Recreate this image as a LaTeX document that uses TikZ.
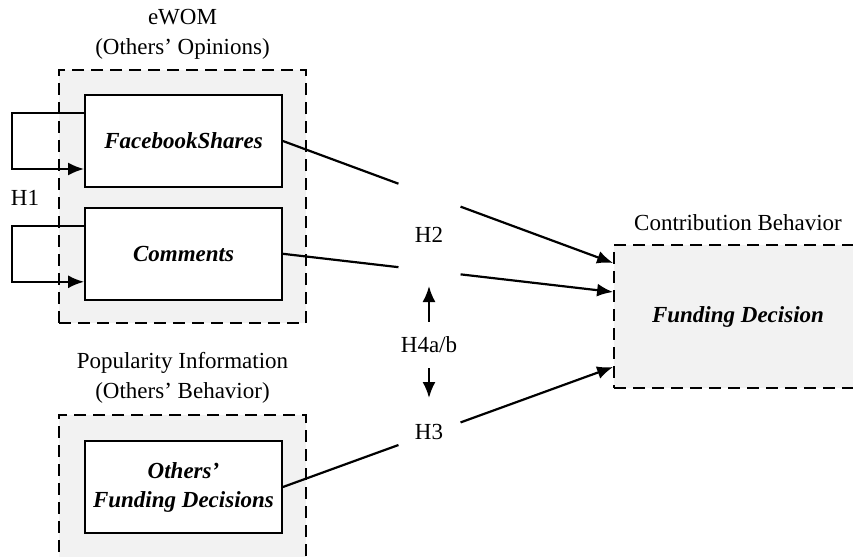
\documentclass[tikz,border=0pt]{standalone}
\usepackage{fontspec}
\setmainfont{Liberation Serif}
\usetikzlibrary{arrows,arrows.meta,shapes,positioning,calc}

\begin{document}
\begin{tikzpicture}[->,>={Latex[length=8pt,width=6.5pt]},x=0.5pt,y=-0.5pt,line width=1.1pt,
                    font=\fontsize{11.5}{15}\selectfont]
\tikzstyle{var}=[rectangle,draw=black,fill=white,line width=0.9pt,minimum width=98.5pt,minimum height=46pt,align=center,font=\fontsize{11.5}{14.5}\selectfont\bfseries\itshape]
\tikzstyle{grp}=[rectangle,draw=black,fill=black!5,line width=0.9pt,dash pattern=on 6pt off 3.5pt]
\tikzstyle{lbl}=[align=center,inner sep=0pt]
\tikzstyle{hyp}=[inner sep=2pt]

\useasboundingbox (0,0) rectangle (853,557);
\clip (0,0) rectangle (853,557);

% groups
\node[grp, minimum width=123.5pt, minimum height=126.5pt] (ewom) at (182.5,196.5) {};
\node[grp, minimum width=123.5pt, minimum height=80pt] (pop) at (182.5,495) {};
\node[grp, minimum width=124pt, minimum height=71.5pt, font=\fontsize{11.5}{14.5}\selectfont\bfseries\itshape] (fd) at (738,316.5) {Funding Decision};

\node[lbl] (ewomlbl) [above=4.5pt of ewom] {eWOM\\(Others’ Opinions)};
\node[lbl] (poplbl) [above=5pt of pop] {Popularity Information\\(Others’ Behavior)};
\node[lbl] (fdlbl) [above=6pt of fd] {Contribution Behavior};

% variables
\node[var] (fb) [below right=12.5pt and 13pt of ewom.north west] {FacebookShares};
\node[var] (com) [below=9.5pt of fb] {Comments};
\node[var] (ofd) [below right=13pt and 13pt of pop.north west] {Others’\\Funding Decisions};

% hypotheses
\node[hyp] (h1) at (25,198) {H1};
\node[hyp] (h2) at (429,235) {H2};
\node[hyp, inner sep=7pt] (h4) at (429,345) {H4a/b};
\node[hyp] (h3) at (429,432) {H3};

\coordinate (in1) at ([yshift=26.75pt]fd.west);
\coordinate (in2) at ([yshift=12.25pt]fd.west);
\coordinate (in3) at ([yshift=-25.25pt]fd.west);
\coordinate (up) at (429,286);
\coordinate (dn) at (429,398);

% self loops
\draw[->] ([yshift=14pt]fb.west) -- ++(-72,0) |- ([yshift=-14pt]fb.west);
\draw[->] ([yshift=14pt]com.west) -- ++(-72,0) |- ([yshift=-14pt]com.west);

% paths to funding decision
\draw[-] (fb.east) -- ($(fb.east)!.35!(in1)$);
\draw[->] ($(fb.east)!.538!(in1)$) -- (in1);
\draw[-] (com.east) -- ($(com.east)!.35!(in2)$);
\draw[->] ($(com.east)!.538!(in2)$) -- (in2);
\draw[-] (ofd.east) -- ($(ofd.east)!.35!(in3)$);
\draw[->] ($(ofd.east)!.538!(in3)$) -- (in3);

\draw[->] (h4.north) -- (up);
\draw[->] (h4.south) -- (dn);
\end{tikzpicture}
\end{document}
